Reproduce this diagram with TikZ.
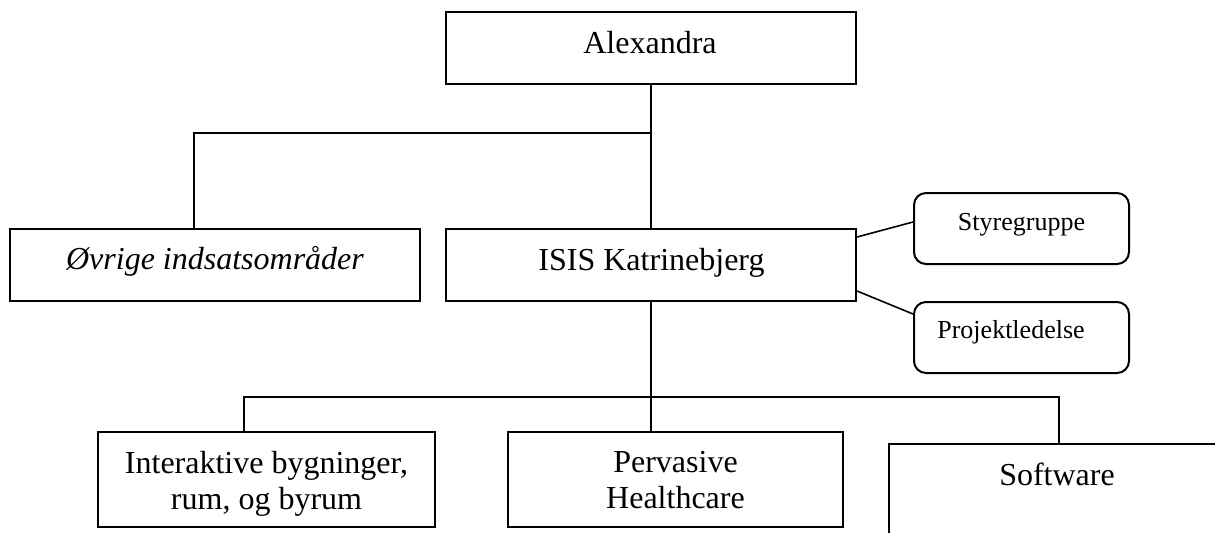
\documentclass[tikz,border=0pt]{standalone}
\usepackage{fontspec}
\setmainfont{Liberation Serif}
\usetikzlibrary{calc}
\begin{document}
\begin{tikzpicture}[x=0.5pt,y=-0.5pt,
  box/.style={draw=black,line width=1pt,rectangle,inner sep=0pt},
  rbox/.style={box,rounded corners=6pt},
  big/.style={font=\fontsize{16}{18}\selectfont,inner sep=0pt},
  small/.style={font=\fontsize{13}{15}\selectfont,inner sep=0pt},
  conn/.style={draw=black,line width=0.8pt}]
\clip (0,0) rectangle (1215,532);
\fill[white] (0,0) rectangle (1215,532);
% boxes
\node[box,minimum width=205pt,minimum height=36pt] (alex) at (651,48) {};
\node[box,minimum width=205pt,minimum height=36pt] (ovr) at (215,265) {};
\node[box,minimum width=205pt,minimum height=36pt] (isis) at (651,265) {};
\node[rbox,minimum width=107.5pt,minimum height=35.5pt] (styr) at (1021.5,228.5) {};
\node[rbox,minimum width=107.5pt,minimum height=35.5pt] (proj) at (1021.5,337.5) {};
\node[box,minimum width=168.5pt,minimum height=47.5pt] (inter) at (266.5,479.5) {};
\node[box,minimum width=167.5pt,minimum height=47.5pt] (perv) at (675.5,479.5) {};
\node[box,minimum width=168pt,minimum height=47.5pt] (soft) at (1057,491.5) {};
% texts
\node[big,anchor=base] (talex) at (650,53) {Alexandra};
\node[big,anchor=base,font=\fontsize{16}{18}\selectfont\itshape] (tovr) at (215,269) {Øvrige indsatsområder};
\node[big,anchor=base] (tisis) at (651.5,270) {ISIS Katrinebjerg};
\node[small,anchor=base] (tstyr) at (1021.5,230) {Styregruppe};
\node[small,anchor=base] (tproj) at (1011,338) {Projektledelse};
\node[big,anchor=base,align=center] (tinter) at (266.5,509) {Interaktive bygninger,\\rum, og byrum};
\node[big,anchor=base,align=center] (tperv) at (675.5,508) {Pervasive\\Healthcare};
\node[big,anchor=base] (tsoft) at (1057,485) {Software};
% connector helper coordinates
\coordinate (j1) at (651,133);
\coordinate (ovrx) at (194,0);
\coordinate (j2) at (651,397);
\coordinate (interx) at (244,0);
\coordinate (softx) at (1059,0);
% connectors
\draw[conn] (alex.south) -- (alex.south |- isis.north);
\draw[conn] (j1) -| (ovrx |- ovr.north);
\draw[conn] (isis.south) -- (isis.south |- perv.north);
\draw[conn] (interx |- inter.north) |- (j2) -| (softx |- soft.north);
\draw[conn] ($(isis.north east)+(0,9)$) -- ($(styr.north west)+(0,30)$);
\draw[conn] ($(isis.north east)+(0,63)$) -- ($(proj.north west)+(0,13)$);
\end{tikzpicture}
\end{document}
